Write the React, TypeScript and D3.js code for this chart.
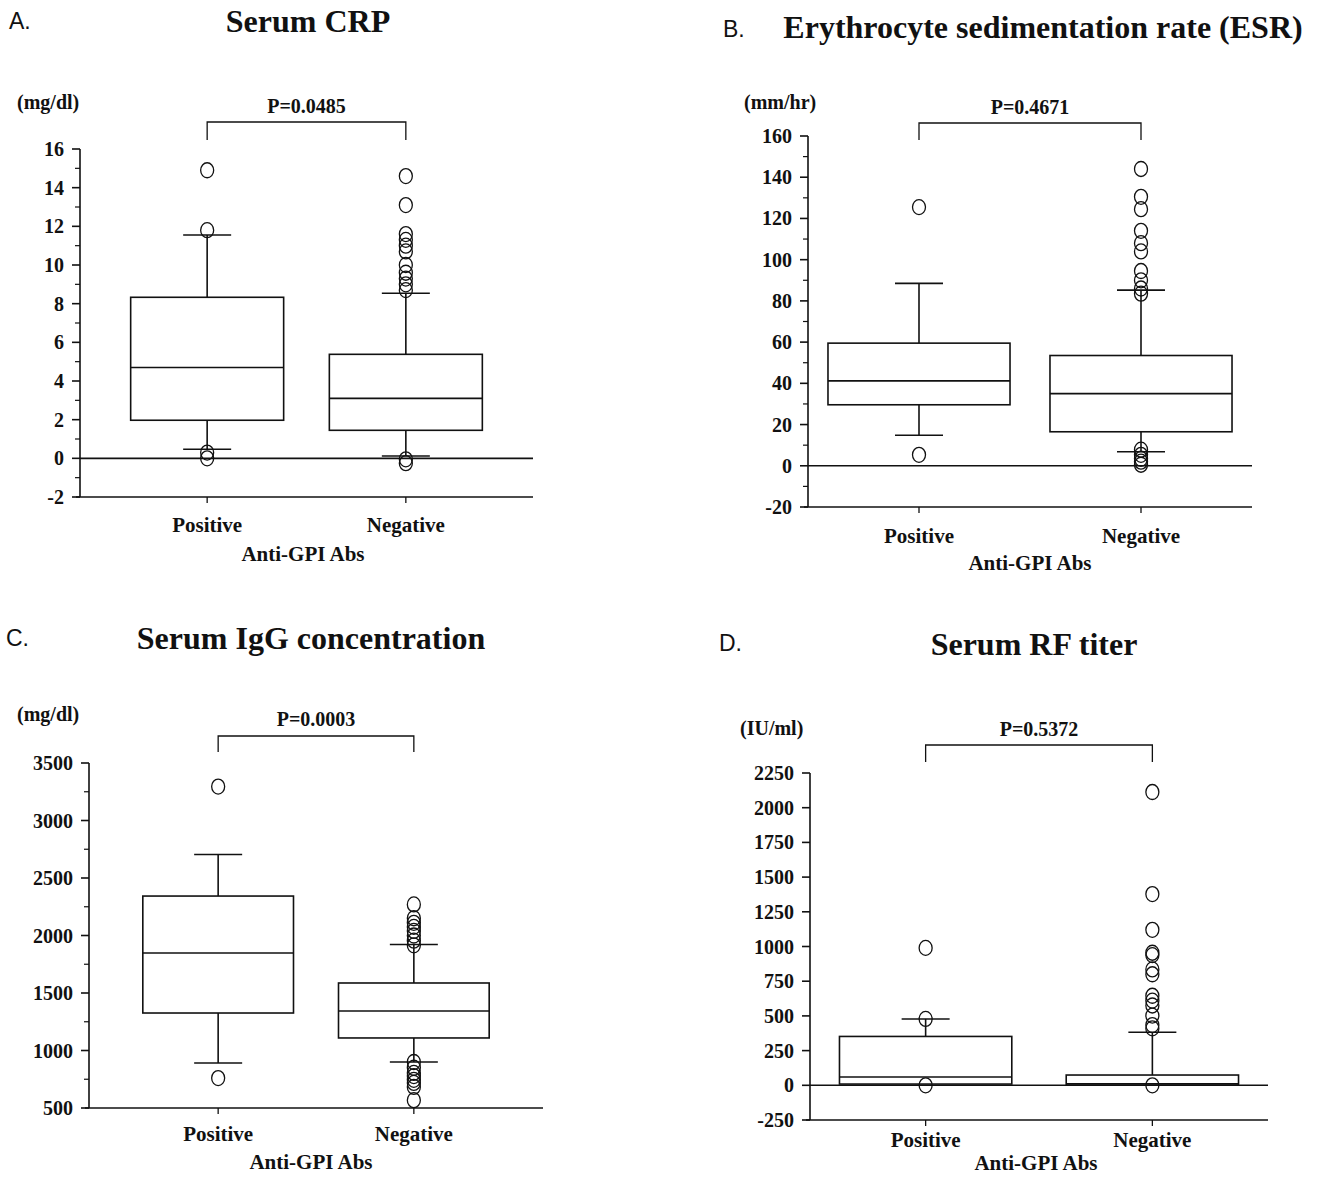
import * as d3 from "d3";
import React from "react";

const groups = ["Positive", "Negative"];

// A. Serum CRP (mg/dl)
const crpTicks = [-2, 0, 2, 4, 6, 8, 10, 12, 14, 16];
const crpQ1 = [1.97, 1.45];
const crpMedian = [4.7, 3.1];
const crpQ3 = [8.33, 5.38];
const crpLow = [0.47, 0.12];
const crpHigh = [11.55, 8.54];
const crpOutliers = [
  [14.9, 11.8, 0.3, 0.0],
  [14.6, 13.1, 11.6, 11.3, 11.0, 10.7, 10.0, 9.6, 9.3, 9.0, 8.7, -0.05, -0.25],
];

// B. ESR (mm/hr)
const esrTicks = [-20, 0, 20, 40, 60, 80, 100, 120, 140, 160];
const esrQ1 = [29.6, 16.5];
const esrMedian = [41.2, 35];
const esrQ3 = [59.5, 53.5];
const esrLow = [14.8, 6.8];
const esrHigh = [88.5, 85.2];
const esrOutliers = [
  [125.5, 5.3],
  [144, 130.5, 124.5, 114, 108, 104, 94.5, 90, 86, 83.5, 7.8, 5.3, 3.4, 2, 0.5],
];

// C. Serum IgG (mg/dl)
const igTicks = [500, 1000, 1500, 2000, 2500, 3000, 3500];
const igQ1 = [1326, 1109];
const igMedian = [1848, 1343];
const igQ3 = [2343, 1587];
const igLow = [891, 900];
const igHigh = [2705, 1922];
const igOutliers = [
  [3295, 760],
  [2270, 2150, 2110, 2075, 2040, 2000, 1955, 1915, 900, 850, 805, 778, 745, 718, 683, 568],
];

// D. RF titer (IU/ml)
const rfTicks = [-250, 0, 250, 500, 750, 1000, 1250, 1500, 1750, 2000, 2250];
const rfQ1 = [9, 2];
const rfMedian = [60, 10];
const rfQ3 = [352, 74];
const rfLow = [NaN, NaN];
const rfHigh = [478, 382];
const rfOutliers = [
  [990, 478, 0],
  [2113, 1378, 1120, 955, 938, 835, 800, 645, 610, 575, 502, 434, 410, 0],
];

const panels = [
  {
    letter: "A.", title: "Serum CRP", unit: "(mg/dl)", p: "P=0.0485",
    ticks: crpTicks, minor: 1, zero: true,
    q1: crpQ1, med: crpMedian, q3: crpQ3, lo: crpLow, hi: crpHigh, out: crpOutliers,
    L: { axisX: 80, xEnd: 533, yTop: 149, yBottom: 497, pad: 0.64, boxFrac: 0.77,
      letterX: 9, letterY: 29, titleX: 308, titleY: 32, unitX: 17, unitY: 109,
      pY: 113, brTop: 122, brBottom: 140, labelY: 532, axisTitleX: 303, axisTitleY: 561 },
  },
  {
    letter: "B.", title: "Erythrocyte sedimentation rate (ESR)", unit: "(mm/hr)", p: "P=0.4671",
    ticks: esrTicks, minor: 10, zero: true,
    q1: esrQ1, med: esrMedian, q3: esrQ3, lo: esrLow, hi: esrHigh, out: esrOutliers,
    L: { axisX: 808, xEnd: 1252, yTop: 136, yBottom: 507, pad: 0.5, boxFrac: 0.82,
      letterX: 723, letterY: 37, titleX: 1043, titleY: 38, unitX: 744, unitY: 109,
      pY: 114, brTop: 123, brBottom: 140, labelY: 543, axisTitleX: 1030, axisTitleY: 570 },
  },
  {
    letter: "C.", title: "Serum IgG concentration", unit: "(mg/dl)", p: "P=0.0003",
    ticks: igTicks, minor: 250, zero: false,
    q1: igQ1, med: igMedian, q3: igQ3, lo: igLow, hi: igHigh, out: igOutliers,
    L: { axisX: 89, xEnd: 543, yTop: 763, yBottom: 1108, pad: 0.66, boxFrac: 0.77,
      letterX: 6, letterY: 646, titleX: 311, titleY: 649, unitX: 17, unitY: 721,
      pY: 726, brTop: 736, brBottom: 752, labelY: 1141, axisTitleX: 311, axisTitleY: 1169 },
  },
  {
    letter: "D.", title: "Serum RF titer", unit: "(IU/ml)", p: "P=0.5372",
    ticks: rfTicks, minor: 0, zero: true,
    q1: rfQ1, med: rfMedian, q3: rfQ3, lo: rfLow, hi: rfHigh, out: rfOutliers,
    L: { axisX: 810, xEnd: 1268, yTop: 773, yBottom: 1120, pad: 0.51, boxFrac: 0.76,
      letterX: 719, letterY: 651, titleX: 1034, titleY: 655, unitX: 740, unitY: 735,
      pY: 736, brTop: 745, brBottom: 762, labelY: 1147, axisTitleX: 1036, axisTitleY: 1170 },
  },
];

const serif = "'Liberation Serif', 'Times New Roman', serif";
const sans = "'Liberation Sans', Arial, sans-serif";
const ink = "#111";
const sw = 1.6;

function Panel({ cfg }) {
  const L = cfg.L;
  const [lo, hi] = d3.extent(cfg.ticks);
  const y = d3.scaleLinear().domain([lo, hi]).range([L.yBottom, L.yTop]);
  const x = d3.scalePoint().domain(groups).range([L.axisX, L.xEnd]).padding(L.pad);
  const boxW = x.step() * L.boxFrac;
  const capW = 48;
  const minorTicks = cfg.minor
    ? d3.range(lo, hi + cfg.minor / 2, cfg.minor).filter((v) => !cfg.ticks.includes(v))
    : [];
  const x0 = x(groups[0]);
  const x1 = x(groups[1]);

  return (
    <g>
      <text x={L.letterX} y={L.letterY} fontFamily={sans} fontSize={23} fill={ink}>
        {cfg.letter}
      </text>
      <text x={L.titleX} y={L.titleY} fontFamily={serif} fontWeight="bold" fontSize={32}
        textAnchor="middle" fill={ink}>
        {cfg.title}
      </text>
      <text x={L.unitX} y={L.unitY} fontFamily={serif} fontWeight="bold" fontSize={20} fill={ink}>
        {cfg.unit}
      </text>

      {/* significance bracket */}
      <text x={(x0 + x1) / 2} y={L.pY} fontFamily={serif} fontWeight="bold" fontSize={20}
        textAnchor="middle" fill={ink}>
        {cfg.p}
      </text>
      <path d={`M${x0},${L.brBottom}V${L.brTop}H${x1}V${L.brBottom}`} fill="none"
        stroke={ink} strokeWidth={1.3} />

      {/* y axis */}
      <line x1={L.axisX} x2={L.axisX} y1={y(hi)} y2={y(lo)} stroke={ink} strokeWidth={sw} />
      {cfg.ticks.map((t) => (
        <g key={t}>
          <line x1={L.axisX - 8} x2={L.axisX} y1={y(t)} y2={y(t)} stroke={ink} strokeWidth={sw} />
          <text x={L.axisX - 16} y={y(t)} dy="0.35em" textAnchor="end" fontFamily={serif}
            fontWeight="bold" fontSize={20} fill={ink}>
            {t}
          </text>
        </g>
      ))}
      {minorTicks.map((t) => (
        <line key={"m" + t} x1={L.axisX - 5} x2={L.axisX} y1={y(t)} y2={y(t)}
          stroke={ink} strokeWidth={1.2} />
      ))}

      {/* bottom axis and zero line */}
      <line x1={L.axisX - 4} x2={L.xEnd} y1={y(lo)} y2={y(lo)} stroke={ink} strokeWidth={sw} />
      {cfg.zero && (
        <line x1={L.axisX} x2={L.xEnd} y1={y(0)} y2={y(0)} stroke={ink} strokeWidth={sw} />
      )}
      {groups.map((g) => (
        <g key={g}>
          <line x1={x(g)} x2={x(g)} y1={y(lo)} y2={y(lo) + 6} stroke={ink} strokeWidth={1.3} />
          <text x={x(g)} y={L.labelY} textAnchor="middle" fontFamily={serif} fontWeight="bold"
            fontSize={21} fill={ink}>
            {g}
          </text>
        </g>
      ))}
      <text x={L.axisTitleX} y={L.axisTitleY} textAnchor="middle" fontFamily={serif}
        fontWeight="bold" fontSize={21} fill={ink}>
        Anti-GPI Abs
      </text>

      {/* boxes */}
      {groups.map((g, i) => {
        const cx = x(g);
        return (
          <g key={"b" + g} stroke={ink} strokeWidth={sw} fill="none">
            <line x1={cx} x2={cx} y1={y(cfg.q3[i])} y2={y(cfg.hi[i])} />
            <line x1={cx - capW / 2} x2={cx + capW / 2} y1={y(cfg.hi[i])} y2={y(cfg.hi[i])} />
            {!isNaN(cfg.lo[i]) && (
              <>
                <line x1={cx} x2={cx} y1={y(cfg.q1[i])} y2={y(cfg.lo[i])} />
                <line x1={cx - capW / 2} x2={cx + capW / 2} y1={y(cfg.lo[i])} y2={y(cfg.lo[i])} />
              </>
            )}
            <rect x={cx - boxW / 2} y={y(cfg.q3[i])} width={boxW}
              height={y(cfg.q1[i]) - y(cfg.q3[i])} fill="white" />
            <line x1={cx - boxW / 2} x2={cx + boxW / 2} y1={y(cfg.med[i])} y2={y(cfg.med[i])} />
            {cfg.out[i].map((v, j) => (
              <ellipse key={j} cx={cx} cy={y(v)} rx={6.5} ry={7.5} strokeWidth={1.3} />
            ))}
          </g>
        );
      })}
    </g>
  );
}

export default function App() {
  return (
    <svg width={1319} height={1177} viewBox="0 0 1319 1177"
      style={{ position: "absolute", left: 0, top: 0, background: "white" }}>
      <rect width={1319} height={1177} fill="white" />
      {panels.map((p) => (
        <Panel key={p.letter} cfg={p} />
      ))}
    </svg>
  );
}
